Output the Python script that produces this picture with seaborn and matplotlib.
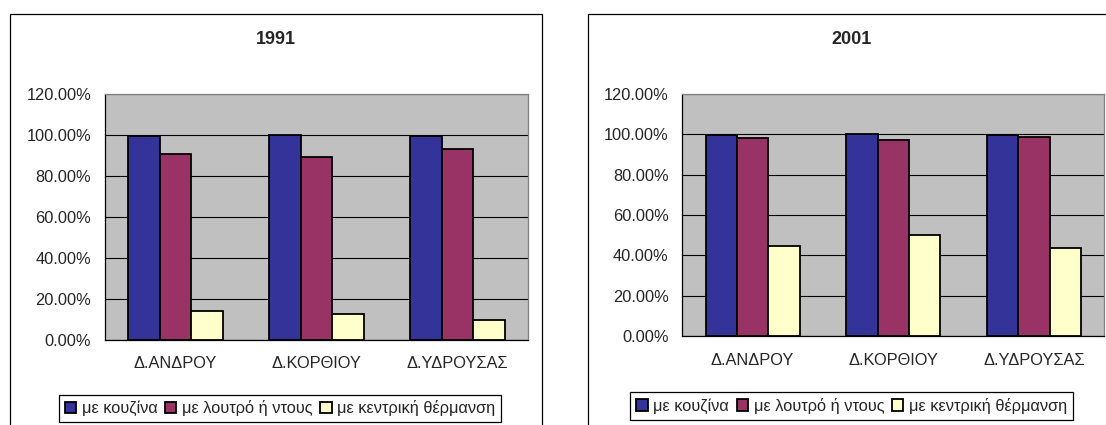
import matplotlib
matplotlib.use('Agg')
import matplotlib.pyplot as plt
import seaborn as sns
import pandas as pd
from matplotlib.patches import Rectangle
from matplotlib.ticker import FuncFormatter

municipalities = ['Δ.ΑΝΔΡΟΥ', 'Δ.ΚΟΡΘΙΟΥ', 'Δ.ΥΔΡΟΥΣΑΣ']
amenities = ['με κουζίνα', 'με λουτρό ή ντους', 'με κεντρική θέρμανση']
years = ['1991', '2001']

kitchen_1991 = [99.5, 100.0, 99.5]
bath_1991 = [90.7, 89.4, 93.0]
heating_1991 = [14.0, 12.4, 9.5]

kitchen_2001 = [99.5, 100.0, 99.5]
bath_2001 = [98.0, 97.2, 98.8]
heating_2001 = [44.8, 49.9, 43.8]

colors = ['#333399', '#993366', '#FFFFCC']

sns.set_style('white')
plt.rcParams['font.family'] = ['Liberation Sans', 'DejaVu Sans']

W, H = 1106, 425
FS = 11.8


def to_frame(kitchen, bath, heating):
    rows = []
    for amenity, vals in zip(amenities, [kitchen, bath, heating]):
        for m, v in zip(municipalities, vals):
            rows.append({'municipality': m, 'amenity': amenity, 'pct': v})
    return pd.DataFrame(rows)


frames = [to_frame(kitchen_1991, bath_1991, heating_1991),
          to_frame(kitchen_2001, bath_2001, heating_2001)]

# pixel layout of each excel chart:
# plot left, right, top, bottom, frame left, frame right, title x, legend centre x, legend top
panels = [
    (105, 528, 94, 339.7, 10, 542, 276, 280, 394.7),
    (682.3, 1104.3, 94, 336, 587.7, 1200, 851.7, 851.7, 392),
]

fig = plt.figure(figsize=(W / 100, H / 100), dpi=100)

for year, df, (pl, pr, pt, pb, bl, br, tx, lx, ly) in zip(years, frames, panels):
    # chart frame
    fig.patches.append(Rectangle((bl / W, -0.2), (br - bl) / W, 1 - 14 / H + 0.2,
                                 transform=fig.transFigure, fill=False,
                                 edgecolor='black', linewidth=0.9))

    ax = fig.add_axes([pl / W, 1 - pb / H, (pr - pl) / W, (pb - pt) / H])
    ax.set_facecolor('#C0C0C0')

    sns.barplot(data=df, x='municipality', y='pct', hue='amenity',
                order=municipalities, hue_order=amenities, palette=colors,
                saturation=1, width=0.67, edgecolor='black', linewidth=1.3, ax=ax)

    ax.set_xlim(-0.5, 2.5)
    ax.set_ylim(0, 120)
    ax.set_yticks(range(0, 121, 20))
    ax.yaxis.set_major_formatter(FuncFormatter(lambda v, p: f'{v:.2f}%'))
    ax.yaxis.grid(True, color='black', linewidth=0.8)
    ax.set_axisbelow(True)

    ax.set_xticks([-0.5, 0.5, 1.5, 2.5], minor=True)
    ax.tick_params(axis='x', which='major', length=0, pad=12, labelsize=FS)
    ax.tick_params(axis='x', which='minor', length=4, width=0.8, color='black', direction='out')
    ax.tick_params(axis='y', length=4, width=0.8, color='black', direction='out', pad=6, labelsize=FS)
    ax.set_xlabel('')
    ax.set_ylabel('')

    for side in ['top', 'right']:
        ax.spines[side].set_color('#808080')
        ax.spines[side].set_linewidth(0.9)
    for side in ['left', 'bottom']:
        ax.spines[side].set_color('black')
        ax.spines[side].set_linewidth(0.9)
        ax.spines[side].set_visible(True)

    fig.text(tx / W, 1 - 39 / H, year, ha='center', va='center',
             fontsize=13, fontweight='bold')

    handles, labels = ax.get_legend_handles_labels()
    if ax.get_legend() is not None:
        ax.get_legend().remove()
    leg = ax.legend(handles, labels, loc='upper center',
                    bbox_to_anchor=(lx / W, 1 - ly / H),
                    bbox_transform=fig.transFigure, ncol=3, frameon=True,
                    fancybox=False, edgecolor='black', framealpha=1,
                    fontsize=FS, handlelength=0.7, handleheight=0.7,
                    handletextpad=0.35, columnspacing=0.45, borderpad=0.35,
                    borderaxespad=0)
    leg.get_frame().set_linewidth(0.9)

fig.savefig('out.png', dpi=100)
